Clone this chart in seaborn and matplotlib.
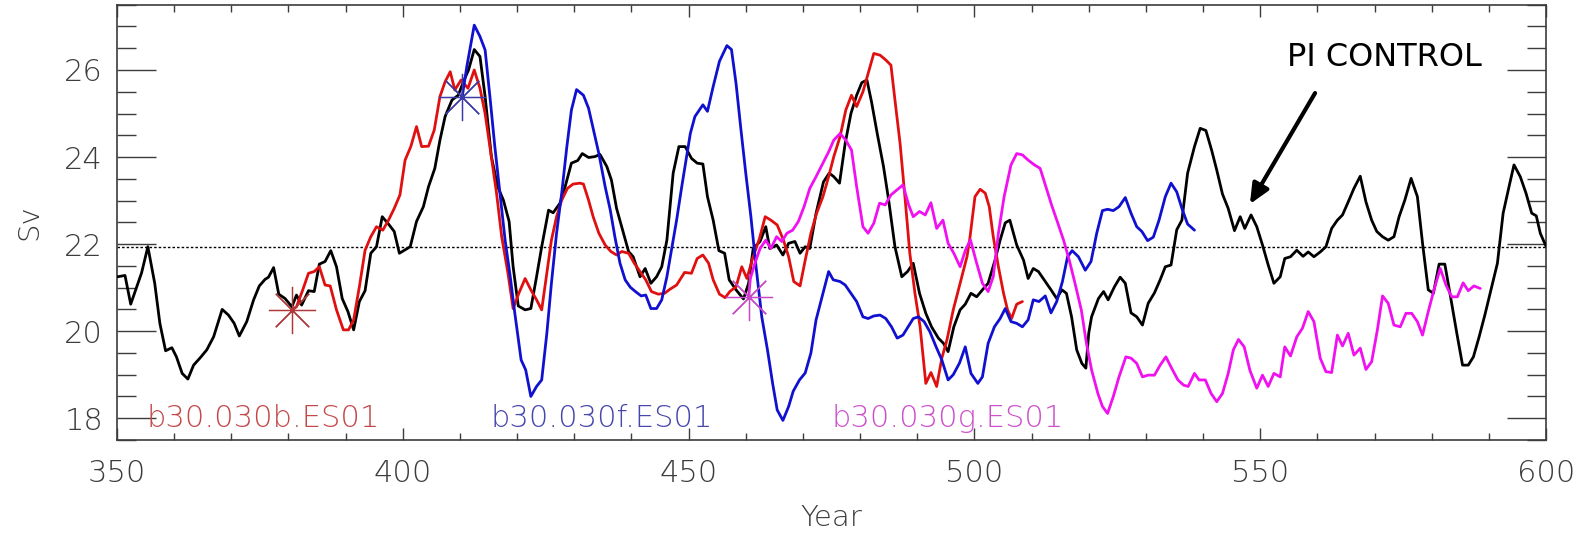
import matplotlib
matplotlib.use("Agg")
import matplotlib.pyplot as plt
import seaborn as sns
import pandas as pd
import numpy as np

# ---- PI control run (black) ----
control_year = [350.1, 351.4, 352.4, 354.3, 355.4, 356.6, 357.5, 358.5, 359.6, 360.4,
                361.4, 362.4, 363.4, 364.5, 365.7, 366.9, 368.4, 369.5, 370.5, 371.4,
                372.7, 373.9, 374.9, 375.9, 376.5, 377.4, 378.3, 379.4, 380.6, 381.4,
                382.3, 383.5, 384.5, 385.4, 386.4, 387.4, 388.4, 389.4, 390.4, 391.4,
                392.4, 393.4, 394.4, 395.4, 396.4, 397.5, 398.5, 399.4, 401.3, 402.4,
                403.6, 404.5, 405.6, 406.5, 407.4, 408.6, 409.7, 410.6, 411.5, 412.5,
                413.5, 414.4, 415.5, 416.6, 417.6, 418.6, 419.3, 420.2, 421.4, 422.4,
                423.4, 424.3, 425.5, 426.3, 427.5, 428.4, 429.5, 430.6, 431.4, 432.5,
                433.6, 434.5, 435.7, 436.5, 437.4, 438.6, 439.5, 440.3, 441.5, 442.4,
                443.4, 444.4, 445.3, 446.2, 447.3, 448.3, 449.4, 450.5, 451.5, 452.5,
                453.3, 454.3, 455.3, 456.3, 457.1, 458.3, 459.6, 460.5, 461.3, 462.5,
                463.5, 464.2, 465.4, 466.5, 467.5, 468.6, 469.5, 470.4, 471.2, 472.3,
                473.6, 474.6, 475.4, 476.4, 477.4, 478.4, 479.4, 480.3, 481.2, 482.0,
                483.0, 484.1, 485.0, 486.1, 487.3, 488.3, 489.3, 490.4, 491.5, 492.5,
                493.7, 494.6, 495.4, 496.4, 497.5, 498.4, 499.4, 500.4, 501.6, 502.4,
                503.6, 504.5, 505.4, 506.2, 507.4, 508.6, 509.4, 510.3, 511.2, 512.4,
                513.4, 514.4, 515.3, 516.1, 517.0, 517.9, 518.8, 519.5, 520.0, 520.5,
                521.7, 522.6, 523.4, 524.5, 525.5, 526.4, 527.4, 528.4, 529.4, 530.4,
                531.5, 532.5, 533.4, 534.4, 535.4, 536.3, 537.3, 538.5, 539.5, 540.5,
                541.5, 542.4, 543.4, 544.4, 545.5, 546.5, 547.3, 548.4, 549.4, 550.4,
                551.4, 552.4, 553.5, 554.3, 555.3, 556.4, 557.5, 558.4, 559.4, 560.5,
                561.5, 562.5, 563.5, 564.4, 565.4, 566.4, 567.5, 568.5, 569.5, 570.4,
                571.4, 572.4, 573.4, 574.3, 575.3, 576.4, 577.5, 578.4, 579.4, 580.3,
                581.3, 582.3, 583.3, 584.4, 585.4, 586.4, 587.3, 588.3, 589.3, 590.3,
                591.5, 592.5, 593.6, 594.4, 595.5, 596.5, 597.5, 598.3, 599.0, 600.0]
control_sv = [21.25, 21.28, 20.62, 21.34, 21.94, 21.10, 20.18, 19.55, 19.62, 19.41,
              19.03, 18.90, 19.22, 19.38, 19.57, 19.87, 20.50, 20.37, 20.18, 19.89,
              20.22, 20.72, 21.04, 21.19, 21.24, 21.46, 20.85, 20.75, 20.56, 20.83,
              20.60, 20.93, 20.91, 21.54, 21.60, 21.85, 21.48, 20.75, 20.45, 20.03,
              20.68, 20.93, 21.79, 21.94, 22.63, 22.46, 22.29, 21.79, 21.94, 22.52,
              22.86, 23.32, 23.74, 24.39, 24.93, 25.31, 25.42, 25.73, 26.00, 26.47,
              26.31, 25.39, 24.01, 23.32, 23.01, 22.52, 21.48, 20.58, 20.49, 20.52,
              21.25, 21.94, 22.78, 22.72, 22.94, 23.32, 23.86, 23.92, 24.08, 23.99,
              24.01, 24.06, 23.78, 23.47, 22.82, 22.25, 21.83, 21.71, 21.25, 21.44,
              21.10, 21.25, 21.48, 22.09, 23.63, 24.24, 24.24, 23.97, 23.86, 23.84,
              23.09, 22.55, 21.85, 21.79, 21.18, 20.95, 20.74, 21.10, 21.90, 22.06,
              22.40, 21.90, 21.98, 21.75, 22.02, 22.06, 21.79, 21.94, 21.90, 22.71,
              23.43, 23.63, 23.55, 23.40, 24.32, 25.00, 25.42, 25.71, 25.77, 25.27,
              24.54, 23.78, 23.01, 21.94, 21.25, 21.37, 21.56, 20.87, 20.41, 20.10,
              19.84, 19.72, 19.53, 20.10, 20.49, 20.62, 20.87, 20.79, 20.98, 21.10,
              21.63, 22.09, 22.49, 22.55, 21.98, 21.63, 21.21, 21.44, 21.37, 21.14,
              20.95, 20.75, 20.95, 20.87, 20.33, 19.57, 19.26, 19.15, 19.95, 20.33,
              20.75, 20.91, 20.72, 21.02, 21.24, 21.10, 20.42, 20.33, 20.14, 20.64,
              20.88, 21.18, 21.48, 21.52, 22.33, 22.55, 23.63, 24.24, 24.66, 24.61,
              24.16, 23.70, 23.15, 22.82, 22.31, 22.63, 22.36, 22.67, 22.40, 21.98,
              21.52, 21.10, 21.25, 21.67, 21.71, 21.86, 21.72, 21.82, 21.71, 21.82,
              21.94, 22.36, 22.55, 22.67, 22.97, 23.28, 23.56, 22.97, 22.55, 22.29,
              22.17, 22.09, 22.17, 22.63, 23.01, 23.51, 23.09, 22.02, 20.95, 20.87,
              21.54, 21.54, 20.79, 19.95, 19.22, 19.22, 19.41, 19.87, 20.37, 20.91,
              21.56, 22.71, 23.36, 23.82, 23.55, 23.17, 22.71, 22.65, 22.25, 21.95]

# ---- b30.030b.ES01 (red) ----
run_b_year = [380.6, 381.4, 382.5, 383.5, 384.5, 385.4, 386.4, 387.3, 388.4, 389.6,
              390.5, 391.4, 392.4, 393.4, 394.4, 395.4, 396.5, 397.5, 398.5, 399.5,
              400.4, 401.4, 402.4, 403.3, 404.5, 405.5, 406.5, 407.4, 408.3, 409.1,
              410.2, 411.4, 412.5, 413.5, 414.4, 415.4, 416.4, 417.3, 418.4, 419.3,
              420.3, 421.4, 422.4, 423.4, 424.3, 425.2, 426.0, 426.9, 427.8, 428.8,
              429.8, 431.0, 431.6, 432.5, 433.3, 434.3, 435.4, 436.4, 437.4, 438.3,
              439.5, 440.5, 441.5, 442.5, 443.5, 444.7, 445.8, 446.7, 447.9, 449.3,
              450.5, 451.5, 452.5, 453.5, 454.3, 455.4, 456.4, 457.2, 458.3, 459.3,
              460.2, 461.2, 462.4, 463.4, 464.4, 465.5, 466.6, 467.5, 468.4, 469.5,
              470.4, 471.4, 472.4, 473.5, 474.5, 475.4, 476.5, 477.5, 478.5, 479.4,
              480.5, 481.4, 482.4, 483.5, 484.5, 485.4, 486.1, 487.0, 487.9, 488.7,
              489.6, 490.5, 491.5, 492.4, 493.4, 494.3, 495.2, 496.3, 497.5, 498.7,
              499.2, 500.1, 501.0, 501.9, 502.6, 503.3, 504.2, 505.1, 505.8, 506.5,
              507.4, 508.4]
run_b_sv = [20.49, 20.56, 20.95, 21.33, 21.37, 21.48, 21.06, 21.04, 20.49, 20.03,
            20.03, 20.26, 21.02, 21.86, 22.17, 22.40, 22.32, 22.55, 22.82, 23.13,
            23.93, 24.24, 24.70, 24.24, 24.25, 24.62, 25.39, 25.73, 25.96, 25.54,
            25.77, 25.58, 26.00, 25.58, 25.00, 24.09, 23.17, 22.17, 21.33, 20.52,
            20.87, 21.21, 20.95, 20.72, 20.49, 21.33, 22.09, 22.63, 23.01, 23.28,
            23.38, 23.40, 23.38, 23.01, 22.63, 22.25, 21.98, 21.83, 21.75, 21.83,
            21.79, 21.56, 21.37, 21.18, 20.91, 20.85, 20.87, 20.96, 21.06, 21.35,
            21.33, 21.67, 21.75, 21.56, 21.18, 20.85, 20.77, 20.91, 21.02, 21.48,
            21.21, 21.67, 22.13, 22.63, 22.55, 22.44, 22.09, 21.71, 21.14, 21.04,
            21.63, 22.25, 22.71, 23.09, 23.55, 24.01, 24.47, 25.08, 25.42, 25.16,
            25.50, 25.92, 26.38, 26.34, 26.23, 26.11, 25.31, 24.31, 23.01, 21.79,
            20.87, 20.10, 18.80, 19.05, 18.73, 19.38, 19.80, 20.49, 21.10, 21.71,
            22.13, 23.09, 23.26, 23.17, 22.86, 22.17, 21.48, 20.87, 20.49, 20.29,
            20.62, 20.68]

# ---- b30.030f.ES01 (blue) ----
run_f_year = [410.4, 411.2, 412.5, 413.5, 414.4, 415.3, 416.1, 417.0, 417.9, 418.8,
              419.6, 420.7, 421.5, 422.4, 423.4, 424.3, 425.2, 426.0, 426.9, 427.8,
              428.7, 429.5, 430.4, 431.6, 432.5, 433.5, 434.3, 435.4, 436.3, 437.1,
              438.0, 438.9, 439.8, 440.7, 441.7, 442.5, 443.4, 444.4, 445.3, 446.2,
              447.0, 447.9, 448.8, 450.3, 451.1, 452.5, 453.3, 454.3, 455.4, 456.7,
              457.5, 458.3, 459.1, 460.0, 460.9, 461.8, 462.8, 463.8, 464.7, 465.5,
              466.5, 467.5, 468.3, 469.4, 470.4, 471.4, 472.3, 473.5, 474.5, 475.3,
              476.5, 477.4, 478.4, 479.4, 480.5, 481.4, 482.4, 483.5, 484.5, 485.5,
              486.5, 487.5, 488.4, 489.3, 490.2, 491.2, 492.2, 493.3, 494.3, 495.4,
              496.3, 497.4, 498.4, 499.4, 500.6, 501.4, 502.4, 503.5, 504.5, 505.4,
              506.4, 507.4, 508.4, 509.4, 510.3, 511.3, 512.4, 513.4, 514.4, 515.4,
              516.3, 517.1, 518.2, 519.4, 520.4, 521.4, 522.4, 523.3, 524.3, 525.3,
              526.4, 527.4, 528.4, 529.3, 530.3, 531.3, 532.3, 533.4, 534.4, 535.4,
              536.3, 537.3, 538.5]
run_f_sv = [25.39, 26.08, 27.03, 26.77, 26.46, 25.31, 24.24, 23.17, 22.09, 21.25,
            20.41, 19.34, 19.11, 18.50, 18.73, 18.88, 19.95, 21.10, 22.25, 23.17,
            24.24, 25.08, 25.55, 25.42, 25.12, 24.54, 24.08, 23.32, 22.78, 22.17,
            21.56, 21.18, 21.01, 20.91, 20.81, 20.83, 20.52, 20.52, 20.72, 21.25,
            21.86, 22.55, 23.32, 24.54, 24.93, 25.20, 25.05, 25.62, 26.20, 26.56,
            26.47, 25.69, 24.70, 23.63, 22.63, 21.48, 20.33, 19.57, 18.80, 18.19,
            17.95, 18.27, 18.62, 18.88, 19.04, 19.50, 20.26, 20.87, 21.37, 21.18,
            21.14, 21.06, 20.87, 20.68, 20.33, 20.29, 20.35, 20.37, 20.29, 20.10,
            19.84, 19.91, 20.10, 20.29, 20.33, 20.22, 19.99, 19.64, 19.34, 18.88,
            19.00, 19.27, 19.64, 19.03, 18.80, 18.95, 19.72, 20.10, 20.29, 20.52,
            20.22, 20.18, 20.10, 20.26, 20.72, 20.68, 20.81, 20.42, 20.68, 21.14,
            21.71, 21.85, 21.71, 21.40, 21.60, 22.25, 22.77, 22.80, 22.77, 22.86,
            23.07, 22.71, 22.40, 22.29, 22.08, 22.16, 22.55, 23.09, 23.40, 23.20,
            22.82, 22.46, 22.32]

# ---- b30.030g.ES01 (magenta) ----
run_g_year = [460.5, 460.8, 461.6, 462.5, 463.5, 464.4, 465.4, 466.3, 467.2, 468.2,
              469.2, 470.2, 471.2, 472.3, 473.5, 474.5, 475.4, 476.5, 477.5, 478.5,
              479.4, 480.5, 481.4, 482.4, 483.4, 484.4, 485.4, 486.4, 487.5, 488.5,
              489.3, 490.4, 491.4, 492.4, 493.4, 494.5, 495.4, 496.4, 497.5, 498.4,
              499.3, 500.4, 501.4, 502.4, 503.3, 504.2, 505.2, 506.4, 507.4, 508.4,
              509.4, 510.5, 511.5, 512.5, 513.5, 514.6, 515.6, 516.6, 517.6, 518.7,
              519.6, 520.5, 521.6, 522.4, 523.3, 524.3, 525.3, 526.5, 527.4, 528.4,
              529.4, 530.4, 531.5, 532.5, 533.5, 534.5, 535.6, 536.6, 537.4, 538.5,
              539.3, 540.4, 541.4, 542.4, 543.4, 544.4, 545.3, 546.2, 547.2, 548.2,
              549.4, 550.4, 551.4, 552.4, 553.5, 554.3, 555.3, 556.4, 557.4, 558.4,
              559.4, 560.5, 561.5, 562.5, 563.5, 564.4, 565.4, 566.4, 567.5, 568.5,
              569.5, 570.5, 571.4, 572.4, 573.4, 574.5, 575.5, 576.5, 577.5, 578.4,
              579.4, 580.4, 581.5, 582.5, 583.5, 584.5, 585.5, 586.4, 587.4, 588.5]
run_g_sv = [20.79, 21.21, 21.56, 21.90, 22.09, 21.90, 22.17, 22.06, 22.25, 22.32,
            22.52, 22.86, 23.28, 23.55, 23.86, 24.12, 24.39, 24.54, 24.39, 24.16,
            23.32, 22.40, 22.25, 22.48, 22.94, 22.90, 23.13, 23.24, 23.36, 22.90,
            22.63, 22.75, 22.67, 22.95, 22.36, 22.55, 22.02, 21.79, 21.48, 21.85,
            22.10, 21.56, 21.10, 20.91, 21.25, 22.25, 23.09, 23.82, 24.08, 24.05,
            23.93, 23.82, 23.74, 23.32, 22.90, 22.48, 22.09, 21.63, 21.10, 20.49,
            19.72, 19.11, 18.57, 18.27, 18.11, 18.50, 18.95, 19.41, 19.38, 19.26,
            18.95, 18.99, 18.99, 19.22, 19.41, 19.15, 18.88, 18.76, 18.73, 19.03,
            18.88, 18.88, 18.57, 18.38, 18.57, 19.03, 19.57, 19.81, 19.64, 19.10,
            18.69, 18.99, 18.73, 19.03, 18.95, 19.64, 19.43, 19.87, 20.07, 20.45,
            20.22, 19.38, 19.07, 19.05, 19.91, 19.66, 19.95, 19.45, 19.61, 19.12,
            19.30, 20.03, 20.81, 20.64, 20.14, 20.10, 20.41, 20.41, 20.22, 19.91,
            20.45, 20.95, 21.44, 21.06, 20.79, 20.79, 21.11, 20.93, 21.04, 20.98]

# Branch points of the three ensemble members
start_year = [380.6, 410.4, 460.5]
start_sv = [20.49, 25.39, 20.79]

control_mean = 21.94

run_labels = ["b30.030b.ES01", "b30.030f.ES01", "b30.030g.ES01"]
label_year = [355.1, 415.3, 475.0]
label_sv = 17.8

# ---- styling ----
sns.set_theme(style="white")
plt.rcParams["font.family"] = ["DejaVu Sans"]

line_colors = ["#e01010", "#1010d0", "#f010f0"]
star_colors = ["#b03838", "#3a3aa8", "#c848c8"]
text_colors = ["#c44848", "#4646ae", "#cc50cc"]
axis_gray = "#3c3c3c"

fig = plt.figure(figsize=(15.87, 5.33), dpi=100)
ax = fig.add_axes([117 / 1587, 93 / 533, 1429 / 1587, 435.3 / 533])

# reference level of the control run
ax.axhline(control_mean, color="black", lw=1.0, ls=(0, (1.8, 1.5)), zorder=1)

control = pd.DataFrame({"Year": control_year, "Sv": control_sv})
sns.lineplot(data=control, x="Year", y="Sv", color="black", lw=2.0,
             estimator=None, sort=False, ax=ax, zorder=3)

runs = [(run_b_year, run_b_sv), (run_f_year, run_f_sv), (run_g_year, run_g_sv)]
for (yr, sv), col in zip(runs, line_colors):
    df = pd.DataFrame({"Year": yr, "Sv": sv})
    sns.lineplot(data=df, x="Year", y="Sv", color=col, lw=2.0,
                 estimator=None, sort=False, ax=ax, zorder=3)

for i in range(len(start_year)):
    ax.plot([start_year[i]], [start_sv[i]], marker=(8, 2, 0), markersize=34,
            markeredgewidth=0.9, color=star_colors[i], ls="none", zorder=4)

for name, x0, col in zip(run_labels, label_year, text_colors):
    ax.text(x0, label_sv, name, color=col, fontsize=22, fontweight="light",
            ha="left", va="baseline", zorder=5)

ax.text(571.8, 26.29, "PI CONTROL", color="black", fontsize=23,
        ha="center", va="center", zorder=5)
ax.annotate("", xy=(548.2, 22.92), xytext=(559.6, 25.47),
            arrowprops=dict(arrowstyle="-|>,head_length=1.0,head_width=0.45",
                            color="black", lw=3.0, shrinkA=0, shrinkB=0),
            zorder=5)

# ---- axes ----
ax.set_xlim(350, 600)
ax.set_ylim(17.5, 27.5)
ax.set_xticks(np.arange(350, 601, 50))
ax.set_xticks(np.arange(350, 601, 10), minor=True)
ax.set_yticks(np.arange(18, 27, 2))
ax.set_yticks(np.arange(17.5, 27.51, 0.5), minor=True)

ax.tick_params(axis="x", which="major", direction="in", length=8.5, width=1.0,
               top=True, bottom=True, color=axis_gray, labelsize=22,
               labelcolor=axis_gray, pad=14)
ax.tick_params(axis="x", which="minor", direction="in", length=5, width=1.0,
               top=True, bottom=True, color=axis_gray)
ax.tick_params(axis="y", which="major", direction="in", length=28, width=1.0,
               left=True, right=True, color=axis_gray, labelsize=22,
               labelcolor=axis_gray, pad=10)
ax.tick_params(axis="y", which="minor", direction="in", length=14, width=1.0,
               left=True, right=True, color=axis_gray)
for lab in ax.get_xticklabels() + ax.get_yticklabels():
    lab.set_fontweight("light")

for sp in ax.spines.values():
    sp.set_color(axis_gray)
    sp.set_linewidth(1.2)
    sp.set_visible(True)

ax.set_xlabel("Year", fontsize=21, color=axis_gray, labelpad=11, fontweight="light")
ax.set_ylabel("Sv", fontsize=21, color=axis_gray, labelpad=15, fontweight="light")
ax.grid(False)

fig.savefig("out.png", dpi=100)
